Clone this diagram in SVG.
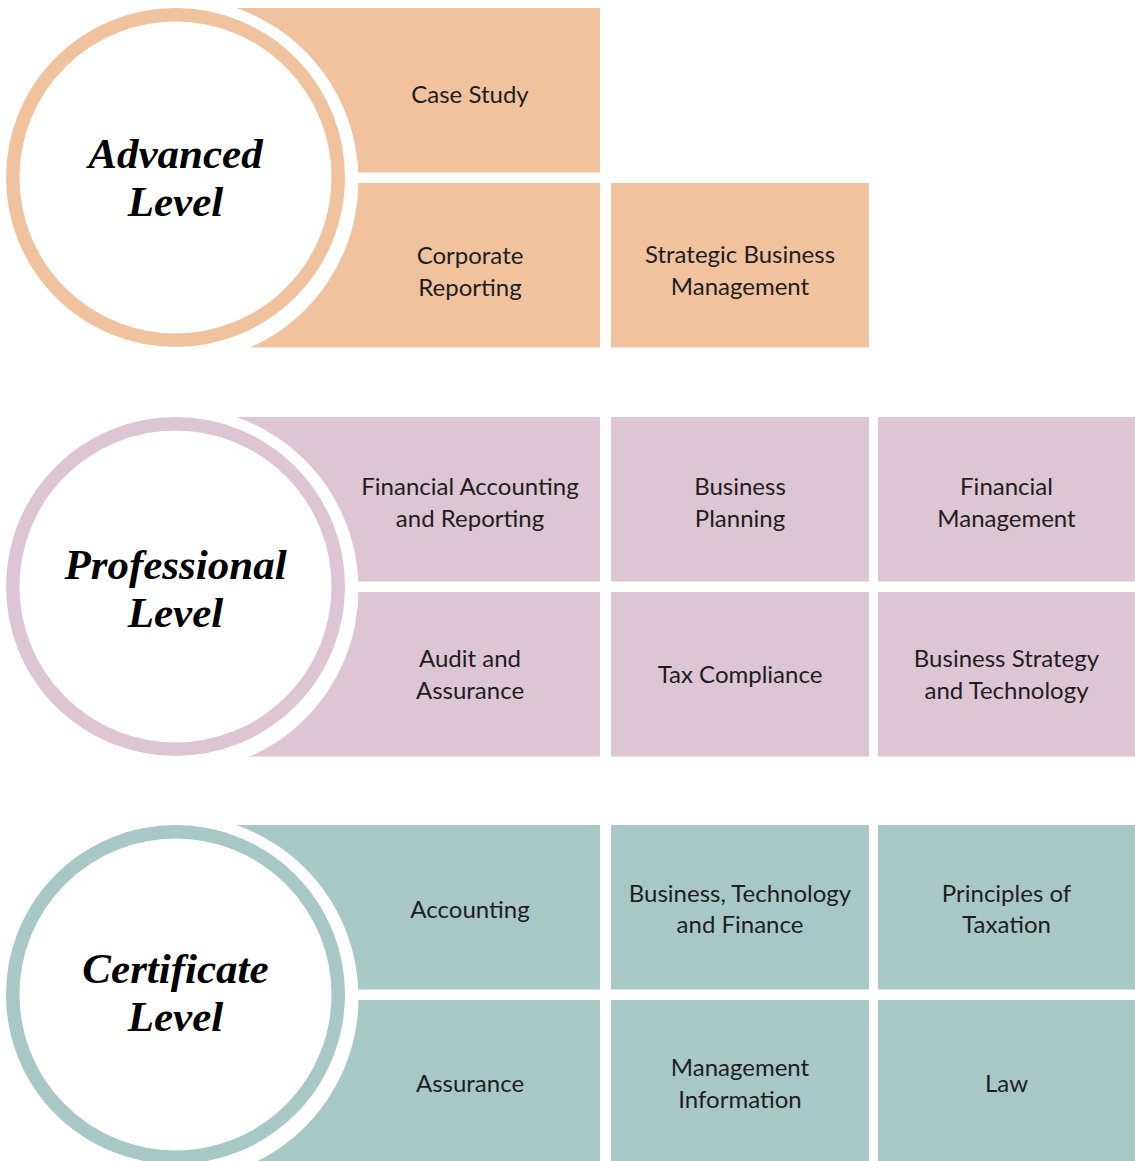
<svg xmlns="http://www.w3.org/2000/svg" width="1135" height="1161" viewBox="0 0 1135 1161">
<style>
.adv{fill:#F1C29E}
.pro{fill:#DDC5D3}
.cer{fill:#A8C8C5}
.halo{fill:#FFFFFF}
.ring{fill:#FFFFFF;stroke-width:13.5}
.ra{stroke:#F1C29E}
.rp{stroke:#DDC5D3}
.rc{stroke:#A8C8C5}
.lbl{font-family:Lato,"Open Sans","Liberation Sans",sans-serif;font-size:24px;fill:#1E1E1E;text-anchor:middle}
.ttl{font-family:"Liberation Serif","DejaVu Serif",serif;font-size:43px;font-weight:bold;font-style:italic;fill:#000;text-anchor:middle}
</style>
<rect width="1135" height="1161" fill="#FFFFFF"/>
<g id="connectors"/>

<!-- Advanced level -->
<g id="adv-case-study"><rect class="adv" x="176" y="8" width="424" height="164.5"/><text class="lbl" x="470" y="103">Case Study</text></g>
<g id="adv-corporate-reporting"><rect class="adv" x="176" y="183" width="424" height="164.5"/><text class="lbl" x="470" y="264">Corporate</text><text class="lbl" x="470" y="296">Reporting</text></g>
<g id="adv-sbm"><rect class="adv" x="611" y="183" width="258" height="164.5"/><text class="lbl" x="740" y="263">Strategic Business</text><text class="lbl" x="740" y="295">Management</text></g>
<g id="adv-level">
<circle class="halo" cx="175.5" cy="180.5" r="183"/>
<circle class="ring ra" cx="175.5" cy="177.5" r="162.75"/>
<text class="ttl" x="175.5" y="168">Advanced</text>
<text class="ttl" x="175.5" y="216">Level</text>
</g>

<!-- Professional level -->
<g id="pro-far"><rect class="pro" x="176" y="417" width="424" height="164.5"/><text class="lbl" x="470" y="495">Financial Accounting</text><text class="lbl" x="470" y="527">and Reporting</text></g>
<g id="pro-bp"><rect class="pro" x="611" y="417" width="258" height="164.5"/><text class="lbl" x="740" y="495">Business</text><text class="lbl" x="740" y="527">Planning</text></g>
<g id="pro-fm"><rect class="pro" x="878" y="417" width="257" height="164.5"/><text class="lbl" x="1006.5" y="495">Financial</text><text class="lbl" x="1006.5" y="527">Management</text></g>
<g id="pro-aa"><rect class="pro" x="176" y="592" width="424" height="164.5"/><text class="lbl" x="470" y="667">Audit and</text><text class="lbl" x="470" y="699">Assurance</text></g>
<g id="pro-tc"><rect class="pro" x="611" y="592" width="258" height="164.5"/><text class="lbl" x="740" y="683">Tax Compliance</text></g>
<g id="pro-bst"><rect class="pro" x="878" y="592" width="257" height="164.5"/><text class="lbl" x="1006.5" y="667">Business Strategy</text><text class="lbl" x="1006.5" y="699">and Technology</text></g>
<g id="pro-level">
<circle class="halo" cx="175.5" cy="589.5" r="183"/>
<circle class="ring rp" cx="175.5" cy="586.5" r="162.75"/>
<text class="ttl" x="175.5" y="579">Professional</text>
<text class="ttl" x="175.5" y="627">Level</text>
</g>

<!-- Certificate level -->
<g id="cer-acc"><rect class="cer" x="176" y="825" width="424" height="164.5"/><text class="lbl" x="470" y="918">Accounting</text></g>
<g id="cer-btf"><rect class="cer" x="611" y="825" width="258" height="164.5"/><text class="lbl" x="740" y="902">Business, Technology</text><text class="lbl" x="740" y="933">and Finance</text></g>
<g id="cer-pot"><rect class="cer" x="878" y="825" width="257" height="164.5"/><text class="lbl" x="1006.5" y="902">Principles of</text><text class="lbl" x="1006.5" y="933">Taxation</text></g>
<g id="cer-ass"><rect class="cer" x="176" y="1000" width="424" height="161"/><text class="lbl" x="470" y="1092">Assurance</text></g>
<g id="cer-mi"><rect class="cer" x="611" y="1000" width="258" height="161"/><text class="lbl" x="740" y="1076">Management</text><text class="lbl" x="740" y="1108">Information</text></g>
<g id="cer-law"><rect class="cer" x="878" y="1000" width="257" height="161"/><text class="lbl" x="1006.5" y="1092">Law</text></g>
<g id="cer-level">
<circle class="halo" cx="175.5" cy="997.5" r="183"/>
<circle class="ring rc" cx="175.5" cy="994.5" r="162.75"/>
<text class="ttl" x="175.5" y="983">Certificate</text>
<text class="ttl" x="175.5" y="1031">Level</text>
</g>
</svg>
